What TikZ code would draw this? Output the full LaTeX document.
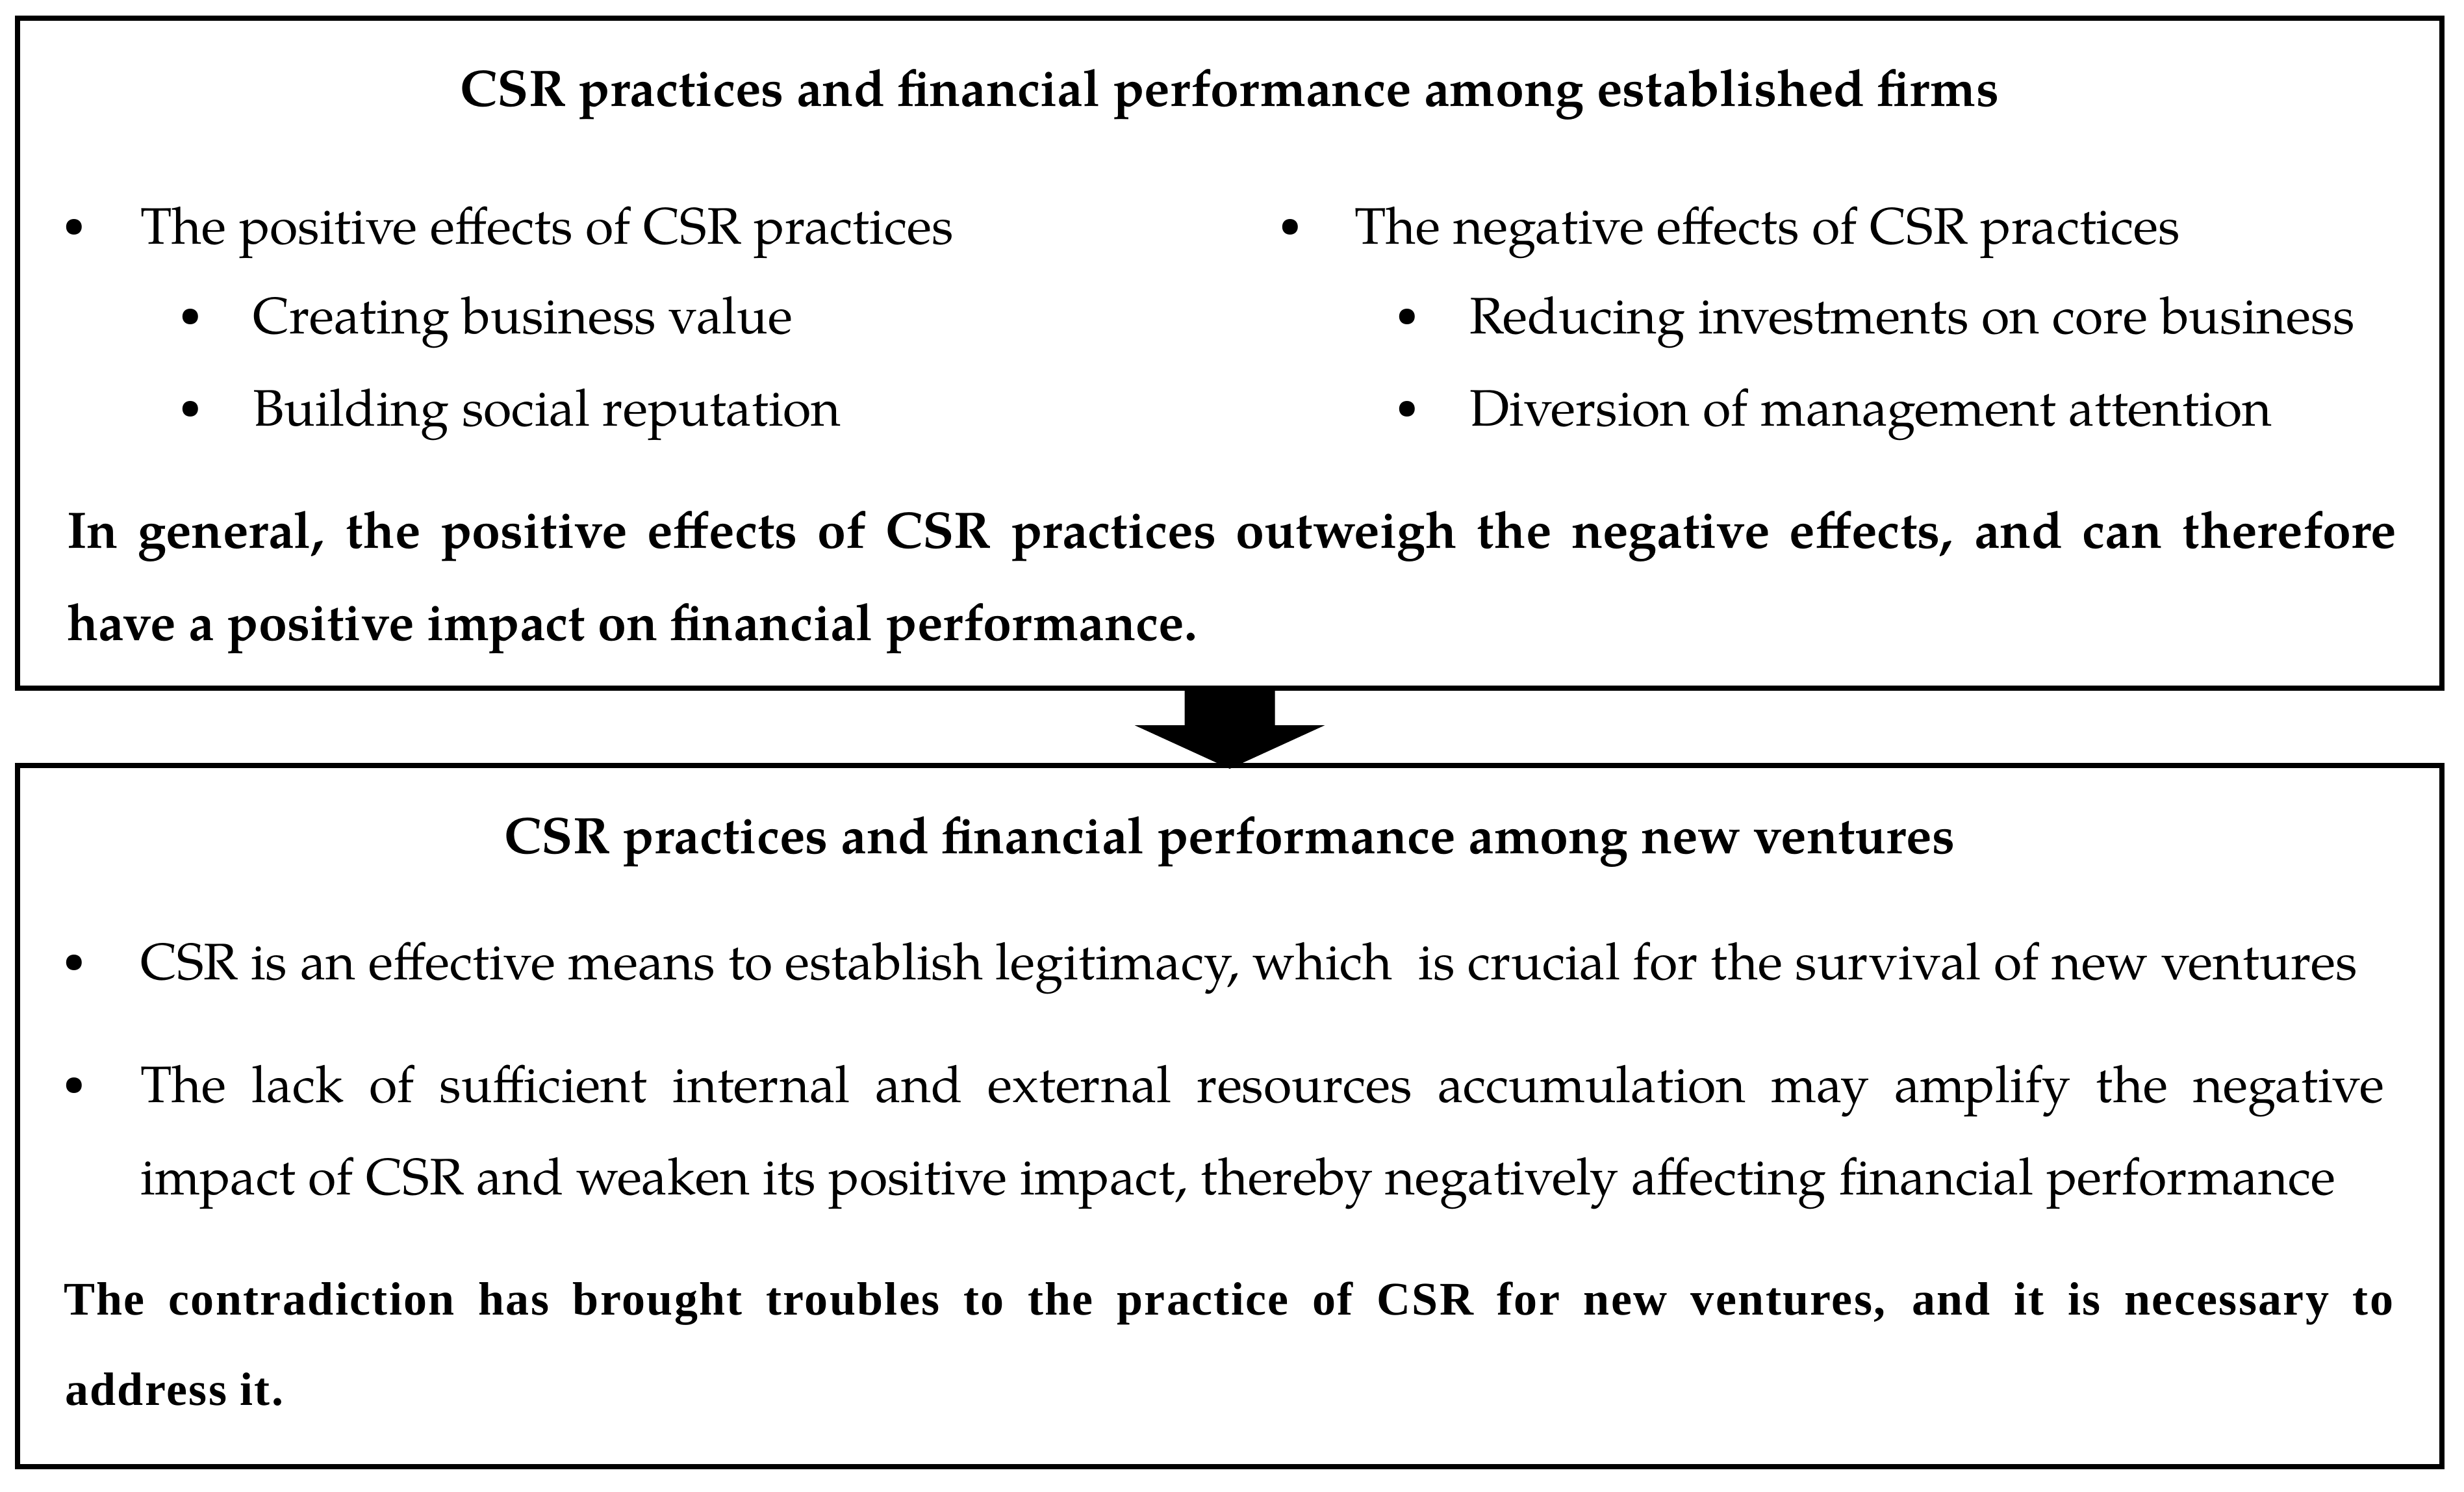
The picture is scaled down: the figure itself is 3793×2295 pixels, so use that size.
\documentclass[tikz,border=0pt]{standalone}
\usepackage{fontspec}
\newfontfamily\tnr[LetterSpace=3.3]{Liberation Serif}
\newfontfamily\pal{TeX Gyre Pagella}
\usetikzlibrary{calc}
\tikzset{
 box/.style={draw, line width=8pt, inner sep=0pt, outer sep=0pt, anchor=north west},
 txt/.style={inner sep=0pt, anchor=base west, font=\pal\fontsize{79}{95}\selectfont},
 ttl/.style={inner sep=0pt, anchor=base, font=\pal\bfseries\fontsize{79}{95}\selectfont},
 bul/.style={inner sep=0pt, anchor=base, yshift=10.5pt, font=\pal\fontsize{60}{72}\selectfont},
 bld/.style={inner sep=0pt, anchor=base west, font=\pal\bfseries\fontsize{79}{95}\selectfont},
 tbld/.style={inner sep=0pt, anchor=base west, font=\tnr\bfseries\fontsize{72}{90}\selectfont},
}
\begin{document}
\begin{tikzpicture}[x=1pt,y=-1pt]
\useasboundingbox (0,0) rectangle (3793,2295);
\node[box, minimum width=3732pt, minimum height=1031pt] (top) at (27,28) {};
\node[box, minimum width=3732pt, minimum height=1079pt] (bot) at (27,1178) {};
\fill ($(top.south)+(-69.5,0)$) -- ($(top.south)+(69.5,0)$) -- ($(top.south)+(69.5,57)$) -- ($(top.south)+(146.5,57)$) -- ($(bot.north)+(0,5)$) -- ($(top.south)+(-146.5,57)$) -- ($(top.south)+(-69.5,57)$) -- cycle;
\node[ttl] (t1) at (1893,163) {CSR practices and financial performance among established firms};
\node[bul] (b1) at (114,375) {\textbullet};
\node[txt] (l1) at (216,375) {The positive effects of CSR practices};
\node[bul] (b2) at (293,513) {\textbullet};
\node[txt] (l2) at (389,513) {Creating business value};
\node[bul] (b3) at (293,655) {\textbullet};
\node[txt] (l3) at (389,655) {Building social reputation};
\node[bul] (b4) at (1986,375) {\textbullet};
\node[txt] (r1) at (2085,375) {The negative effects of CSR practices};
\node[bul] (b5) at (2166,513) {\textbullet};
\node[txt] (r2) at (2262,513) {Reducing investments on core business};
\node[bul] (b6) at (2166,655) {\textbullet};
\node[txt] (r3) at (2262,655) {Diversion of management attention};
\node[bld] (g1) at (103,843) {\makebox[3586pt][s]{In general, the positive effects of CSR practices outweigh the negative effects, and can therefore}};
\node[bld] (g2) at (103,985) {have a positive impact on financial performance.};
\node[ttl] (t2) at (1893,1313) {CSR practices and financial performance among new ventures};
\node[bul] (b7) at (114,1507) {\textbullet};
\node[txt] (n1) at (216,1507) {CSR is an effective means to establish legitimacy, which\ \ is crucial for the survival of new ventures};
\node[bul] (b8) at (114,1696) {\textbullet};
\node[txt] (n2) at (216,1696) {\makebox[3454pt][s]{The lack of sufficient internal and external resources accumulation may amplify the negative}};
\node[txt] (n3) at (216,1838) {impact of CSR and weaken its positive impact, thereby negatively affecting financial performance};
\node[tbld] (c1) at (98,2023) {\makebox[3586pt][s]{The contradiction has brought troubles to the practice of CSR for new ventures, and it is necessary to}};
\node[tbld] (c2) at (100,2162) {address it.};
\end{tikzpicture}
\end{document}
